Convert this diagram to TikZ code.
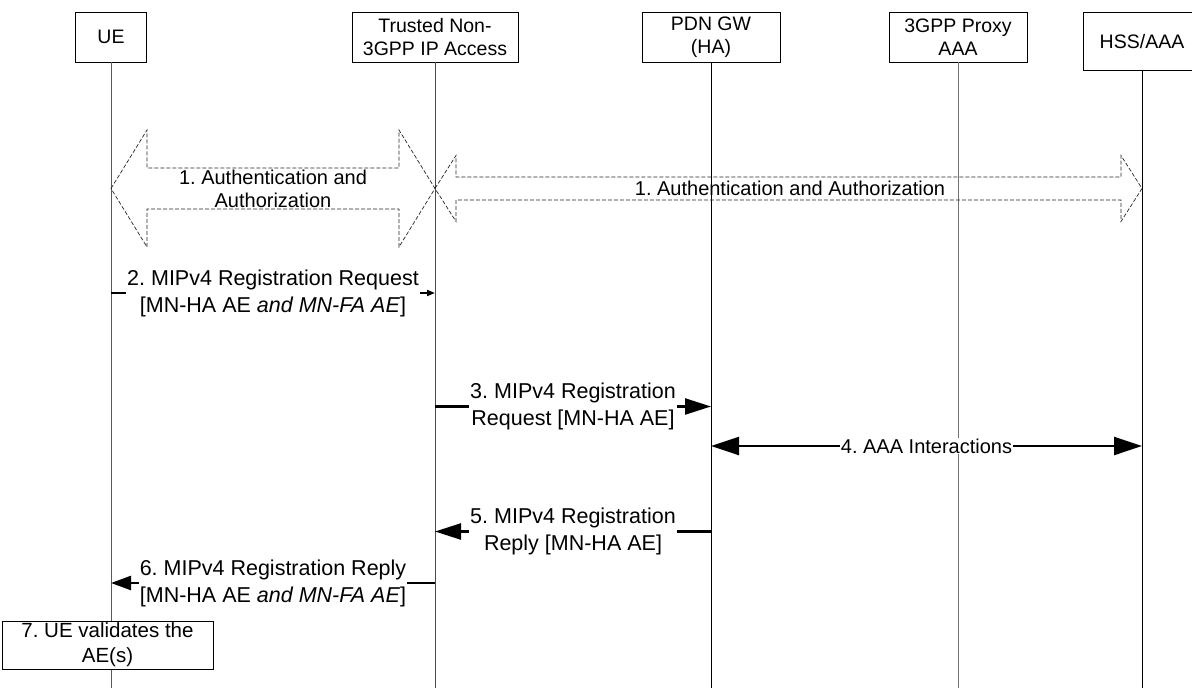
\documentclass[tikz,border=0pt]{standalone}
\usepackage{fontspec}
\setmainfont{Liberation Sans}
\usetikzlibrary{calc,arrows.meta}
\frenchspacing

\begin{document}
\begin{tikzpicture}[x=1pt,y=-1pt,
    box/.style={draw,fill=white,line width=0.8pt,align=center,inner sep=0pt,font=\fontsize{19.5}{23}\selectfont},
    life/.style={line width=0.9pt},
    aa/.style={draw=black!85,dash pattern=on 4pt off 2pt,line width=0.7pt},
    msg/.style={line width=2.4pt,-{Triangle[length=26pt,width=16pt]}},
    lbl/.style={fill=white,align=center,inner sep=1pt,font=\fontsize{21.5}{27}\selectfont}]
    \useasboundingbox (0,0) rectangle (1192,688);
    \coordinate (bot) at (0,688);
    \node[box,minimum width=71,minimum height=50] (ue) at (111,37) {UE};
    \node[box,minimum width=166,minimum height=50] (tn) at (435,37) {Trusted Non-\\3GPP IP Access};
    \node[box,minimum width=138,minimum height=50] (gw) at (711,37) {PDN GW\\(HA)};
    \node[box,minimum width=138,minimum height=50] (px) at (958,37) {3GPP Proxy\\AAA};
    \node[box,minimum width=118,minimum height=58] (hss) at (1142,41.5) {HSS/AAA};
    \foreach \n/\c in {ue/black!65,tn/black!70,gw/black,px/black!55,hss/black}
        \draw[life,draw=\c] (\n) -- (\n |- bot);
    \coordinate (r1) at (0,188.5);
    \coordinate (r2) at (0,293);
    \coordinate (r3) at (0,406.5);
    \coordinate (r4) at (0,446);
    \coordinate (r5) at (0,531.5);
    \coordinate (r6) at (0,583);
    \draw[aa] (ue |- r1) --++ (36,-58.5) --++ (0,38) --++ (252,0) --++ (0,-38) --++ (36,58.5) --++ (-36,58.5) --++ (0,-38) --++ (-252,0) --++ (0,38) -- cycle;
    \draw[aa] (tn |- r1) --++ (21,-33) --++ (0,21.5) --++ (665,0) --++ (0,-21.5) --++ (21,33) --++ (-21,33) --++ (0,-21.5) --++ (-665,0) --++ (0,21.5) -- cycle;
    \node[align=center,font=\fontsize{20}{23}\selectfont] (aa1) at (273,188.5) {1. Authentication and\\Authorization};
    \node[font=\fontsize{20}{23}\selectfont] (aa2) at (790,188.5) {1. Authentication and Authorization};
    \draw[line width=1.8pt,-{Triangle[length=8pt,width=6pt]}] (ue |- r2) -- node[lbl] (l2) {2. MIPv4 Registration Request\\{[}MN-HA AE \textit{and MN-FA AE}]} (tn |- r2);
    \draw[msg] (tn |- r3) -- node[lbl] (l3) {3. MIPv4 Registration\\Request [MN-HA AE]} (gw |- r3);
    \draw[msg,{Triangle[length=28pt,width=18pt]}-{Triangle[length=28pt,width=18pt]}] (gw |- r4) -- node[lbl,font=\fontsize{20}{24}\selectfont] (l4) {4. AAA Interactions} (hss |- r4);
    \draw[msg] (gw |- r5) -- node[lbl] (l5) {5. MIPv4 Registration\\Reply [MN-HA AE]} (tn |- r5);
    \draw[msg,-{Triangle[length=20pt,width=14pt]}] (tn |- r6) -- node[lbl] (l6) {6. MIPv4 Registration Reply\\{[}MN-HA AE \textit{and MN-FA AE}]} (ue |- r6);
    \node[box,minimum width=211,minimum height=48,font=\fontsize{20.5}{25}\selectfont] (val) at (107.5,645) {7. UE validates the\\AE(s)};
\end{tikzpicture}
\end{document}
